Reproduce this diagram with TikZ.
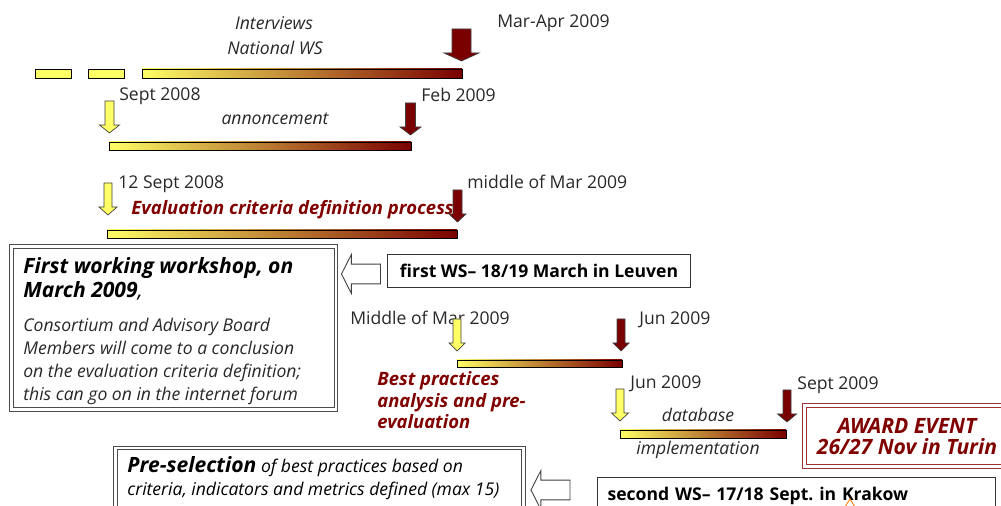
\documentclass[tikz,border=0pt]{standalone}
\usepackage{fontspec}
\setmainfont{Open Sans}
\usetikzlibrary{shapes.arrows, positioning}

\definecolor{baryellow}{RGB}{255,255,102}
\definecolor{barmid}{RGB}{196,164,68}
\definecolor{barred}{RGB}{122,0,0}
\definecolor{labelgray}{RGB}{40,40,40}
\definecolor{phasered}{RGB}{128,0,0}

\tikzstyle{bar} = [draw=black, line width=0.5pt, left color=baryellow, middle color=barmid, right color=barred]
\tikzstyle{dashbar} = [draw=black, line width=0.5pt, fill=baryellow]
\tikzstyle{yellowdrop} = [draw=black!75, line width=0.4pt, fill=baryellow]
\tikzstyle{reddrop} = [draw=black!75, line width=0.4pt, fill=barred]
\tikzstyle{hollowarrow} = [single arrow, rotate=180, draw=black!75, line width=0.5pt, fill=white, inner xsep=0pt, inner ysep=5.4pt, minimum height=22.2pt, single arrow head extend=5.4pt, single arrow tip angle=126]
\tikzstyle{datelbl} = [anchor=base west, inner sep=0pt, text=labelgray, font=\fontsize{10}{12}\selectfont]
\tikzstyle{tasklbl} = [anchor=base, inner sep=0pt, text=labelgray, font=\fontsize{10}{12}\selectfont\itshape]
\tikzstyle{phaselbl} = [anchor=base west, inner sep=0pt, align=left, text=phasered, font=\fontsize{10.5}{12.5}\selectfont\bfseries\itshape]
\tikzstyle{wsbox} = [draw=black!80, line width=0.6pt, font=\fontsize{10}{12}\selectfont\bfseries, text=black]
\tikzstyle{noteframe} = [draw=black!70, line width=0.6pt, double, double distance=1.4pt, anchor=north west, inner sep=0pt]
\tikzstyle{awardframe} = [draw=phasered!80, line width=0.6pt, double, double distance=1.4pt, anchor=north west, inner sep=0pt]
\tikzstyle{notetitle} = [anchor=base west, inner sep=0pt, align=left, text=black, font=\fontsize{12}{13.7}\selectfont\bfseries\itshape]
\tikzstyle{notebody} = [anchor=base west, inner sep=0pt, align=left, text=labelgray, font=\fontsize{10}{13.1}\selectfont\itshape]
\tikzstyle{awardtext} = [anchor=base, inner sep=0pt, align=center, text=phasered, font=\fontsize{12}{12.5}\selectfont\bfseries\itshape]

% block arrow pointing down: style, x, top, half shaft, half head
\newcommand{\droparrow}[5]{%
  \draw[#1] ({#2-#4},#3) -- ({#2+#4},#3) -- ({#2+#4},#3+24) -- ({#2+#5},#3+24)
    -- (#2,#3+32) -- ({#2-#5},#3+24) -- ({#2-#4},#3+24) -- cycle;}

\begin{document}
\begin{tikzpicture}[x=0.02cm, y=-0.02cm]
	\useasboundingbox (0,0) rectangle (1001,506);
	\clip (0,0) rectangle (1001,506);

	% interviews
	\node (interviews) [tasklbl] at (274,30) {Interviews};
	\node (nationalws) [tasklbl] at (275,55) {National WS};
	\node (marapr) [datelbl] at (497,28) {Mar-Apr 2009};
	\draw[dashbar] (35,69) rectangle (71,78);
	\draw[dashbar] (88,69) rectangle (124,78);
	\draw[bar] (142,69) rectangle (462,78);
	\droparrow{reddrop}{461.5}{29}{9.5}{17.5}

	% annoncement
	\node (sept08) [datelbl] at (119,101) {Sept 2008};
	\node (feb09) [datelbl] at (421,102) {Feb 2009};
	\node (annonce) [tasklbl] at (275,125) {annoncement};
	\draw[bar] (109,142) rectangle (411,150);
	\droparrow{yellowdrop}{109.5}{101}{4.5}{10}
	\droparrow{reddrop}{410.5}{103}{5}{10.5}

	% evaluation criteria
	\node (sept12) [datelbl] at (118,189) {12 Sept 2008};
	\node (midmar) [datelbl] at (467,189) {middle of Mar 2009};
	\node (evalproc) [phaselbl] at (131,215) {Evaluation criteria definition process};
	\draw[bar] (107,230) rectangle (457,238);
	\droparrow{yellowdrop}{108}{183}{4}{9}
	\droparrow{reddrop}{457.5}{190}{4.5}{8.5}

	% first workshop (base = last line)
	\node (workshopframe) [noteframe, minimum width=6.49cm, minimum height=3.26cm] at (11,246) {};
	\node (workshoptitle) [notetitle] at (23,298) {First working workshop, on\\March 2009{\mdseries,}};
	\node (workshopbody) [notebody] at (23,401) {Consortium and Advisory Board\\Members will come to a conclusion\\on the evaluation criteria definition;\\this can go on in the internet forum};
	\node (firstws) [wsbox, anchor=north west, minimum width=6.06cm, minimum height=0.66cm] at (387,254) {first WS-- 18/19 March in Leuven};
	\node (arrowone) [hollowarrow] at (363.5,274) {};

	% best practices
	\node (midmar2) [datelbl] at (350,325) {Middle of Mar 2009};
	\node (jun09) [datelbl] at (639,325) {Jun 2009};
	\node (bestpract) [phaselbl] at (377,429) {Best practices\\analysis and pre-\\evaluation};
	\draw[bar] (457,360) rectangle (622,367);
	\droparrow{yellowdrop}{457}{319}{4}{8}
	\droparrow{reddrop}{621}{319}{4}{8}

	% database
	\node (jun09b) [datelbl] at (630,389) {Jun 2009};
	\node (sept09) [datelbl] at (797,390) {Sept 2009};
	\node (database) [tasklbl] at (698,422) {database};
	\node (implement) [tasklbl] at (698,455) {implementation};
	\draw[bar] (620,430) rectangle (786,438);
	\droparrow{yellowdrop}{620}{389}{4}{8.5}
	\droparrow{reddrop}{787}{390}{4}{9.5}

	% award
	\node (awardframe) [awardframe, minimum width=4.4cm, minimum height=1.22cm] at (804,405) {};
	\node (award) [awardtext] at (907,455) {AWARD EVENT\\26/27 Nov in Turin};

	% pre-selection
	\node (preselframe) [noteframe, minimum width=8.16cm, minimum height=2cm] at (115,447.5) {};
	\node (preseltext) [notebody, text=black] at (127,496) {{\fontsize{12}{13}\selectfont\bfseries Pre-selection} of best practices based on\\criteria, indicators and metrics defined (max 15)};
	\node (secondws) [wsbox, anchor=north west, text width=7.56cm, inner sep=5.7pt, align=left] at (597,477) {second WS-- 17/18 Sept.\ in Krakow};
	\node (arrowtwo) [hollowarrow] at (553,490) {};
	\draw[orange, line width=0.5pt] (845,507) -- (850,499) -- (855,507);
\end{tikzpicture}
\end{document}
